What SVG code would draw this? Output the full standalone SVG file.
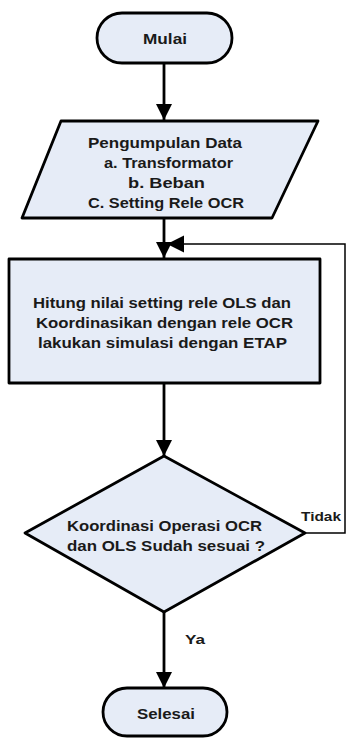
<svg xmlns="http://www.w3.org/2000/svg" width="347" height="738" viewBox="0 0 347 738">
<defs>
<style>
.n{fill:#e6ecf7;stroke:#000;stroke-width:2.8;stroke-linejoin:round}
.t{font-family:"Liberation Sans",Arial,sans-serif;font-weight:bold;font-size:15.5px;fill:#1a1a1a;text-anchor:middle;dominant-baseline:central}
.s{font-size:12px}
.c{fill:none;stroke:#000;stroke-width:2.8}
.c2{fill:none;stroke:#000;stroke-width:1.5}
</style>
<marker id="a" markerWidth="16" markerHeight="16" viewBox="0 0 16 16" refX="16" refY="8" orient="auto" markerUnits="userSpaceOnUse"><path d="M0,0 L16,8 L0,16 Z" fill="#000"/></marker>
</defs>
<g id="connectors">
<line class="c" x1="164" y1="63" x2="164" y2="120" marker-end="url(#a)"/>
<line class="c" x1="164" y1="218" x2="164" y2="258" marker-end="url(#a)"/>
<polyline class="c2" points="305,533 345,533 345,244 183,244"/>
<path d="M167,244 L184,235.5 L184,252.5 Z" fill="#000"/>
<line class="c" x1="164" y1="383" x2="164" y2="456" marker-end="url(#a)"/>
<line class="c" x1="164" y1="612" x2="164" y2="688" marker-end="url(#a)"/>
<text class="t s" x="321" y="517" textLength="40" lengthAdjust="spacingAndGlyphs">Tidak</text>
<text class="t s" x="195" y="640" textLength="20" lengthAdjust="spacingAndGlyphs">Ya</text>
</g>
<g id="mulai">
<rect class="n" x="97" y="13" width="135" height="50" rx="25"/>
<text class="t" x="165" y="38" textLength="44" lengthAdjust="spacingAndGlyphs">Mulai</text>
</g>
<g id="pengumpulan">
<polygon class="n" points="61,121 318,121 272,218 22,218"/>
<text class="t" x="165" y="142" textLength="154" lengthAdjust="spacingAndGlyphs">Pengumpulan Data</text>
<text class="t" x="168.5" y="162" textLength="129" lengthAdjust="spacingAndGlyphs">a. Transformator</text>
<text class="t" x="166.5" y="182" textLength="77" lengthAdjust="spacingAndGlyphs">b. Beban</text>
<text class="t" x="166" y="202" textLength="156" lengthAdjust="spacingAndGlyphs">C. Setting Rele OCR</text>
</g>
<g id="hitung">
<rect class="n" x="9" y="259" width="311" height="124"/>
<text class="t" x="162" y="302" textLength="258" lengthAdjust="spacingAndGlyphs">Hitung nilai setting rele OLS dan</text>
<text class="t" x="164.5" y="322" textLength="257" lengthAdjust="spacingAndGlyphs">Koordinasikan dengan rele OCR</text>
<text class="t" x="162.5" y="342" textLength="249" lengthAdjust="spacingAndGlyphs">lakukan simulasi dengan ETAP</text>
</g>
<g id="koordinasi">
<polygon class="n" points="164,456 305,533 164,612 25,533"/>
<text class="t" x="164.5" y="525" textLength="195" lengthAdjust="spacingAndGlyphs">Koordinasi Operasi OCR</text>
<text class="t" x="166" y="545" textLength="198" lengthAdjust="spacingAndGlyphs">dan OLS Sudah sesuai ?</text>
</g>
<g id="selesai">
<rect class="n" x="103" y="688" width="124" height="48" rx="24"/>
<text class="t" x="166" y="713" textLength="58" lengthAdjust="spacingAndGlyphs">Selesai</text>
</g>
</svg>
